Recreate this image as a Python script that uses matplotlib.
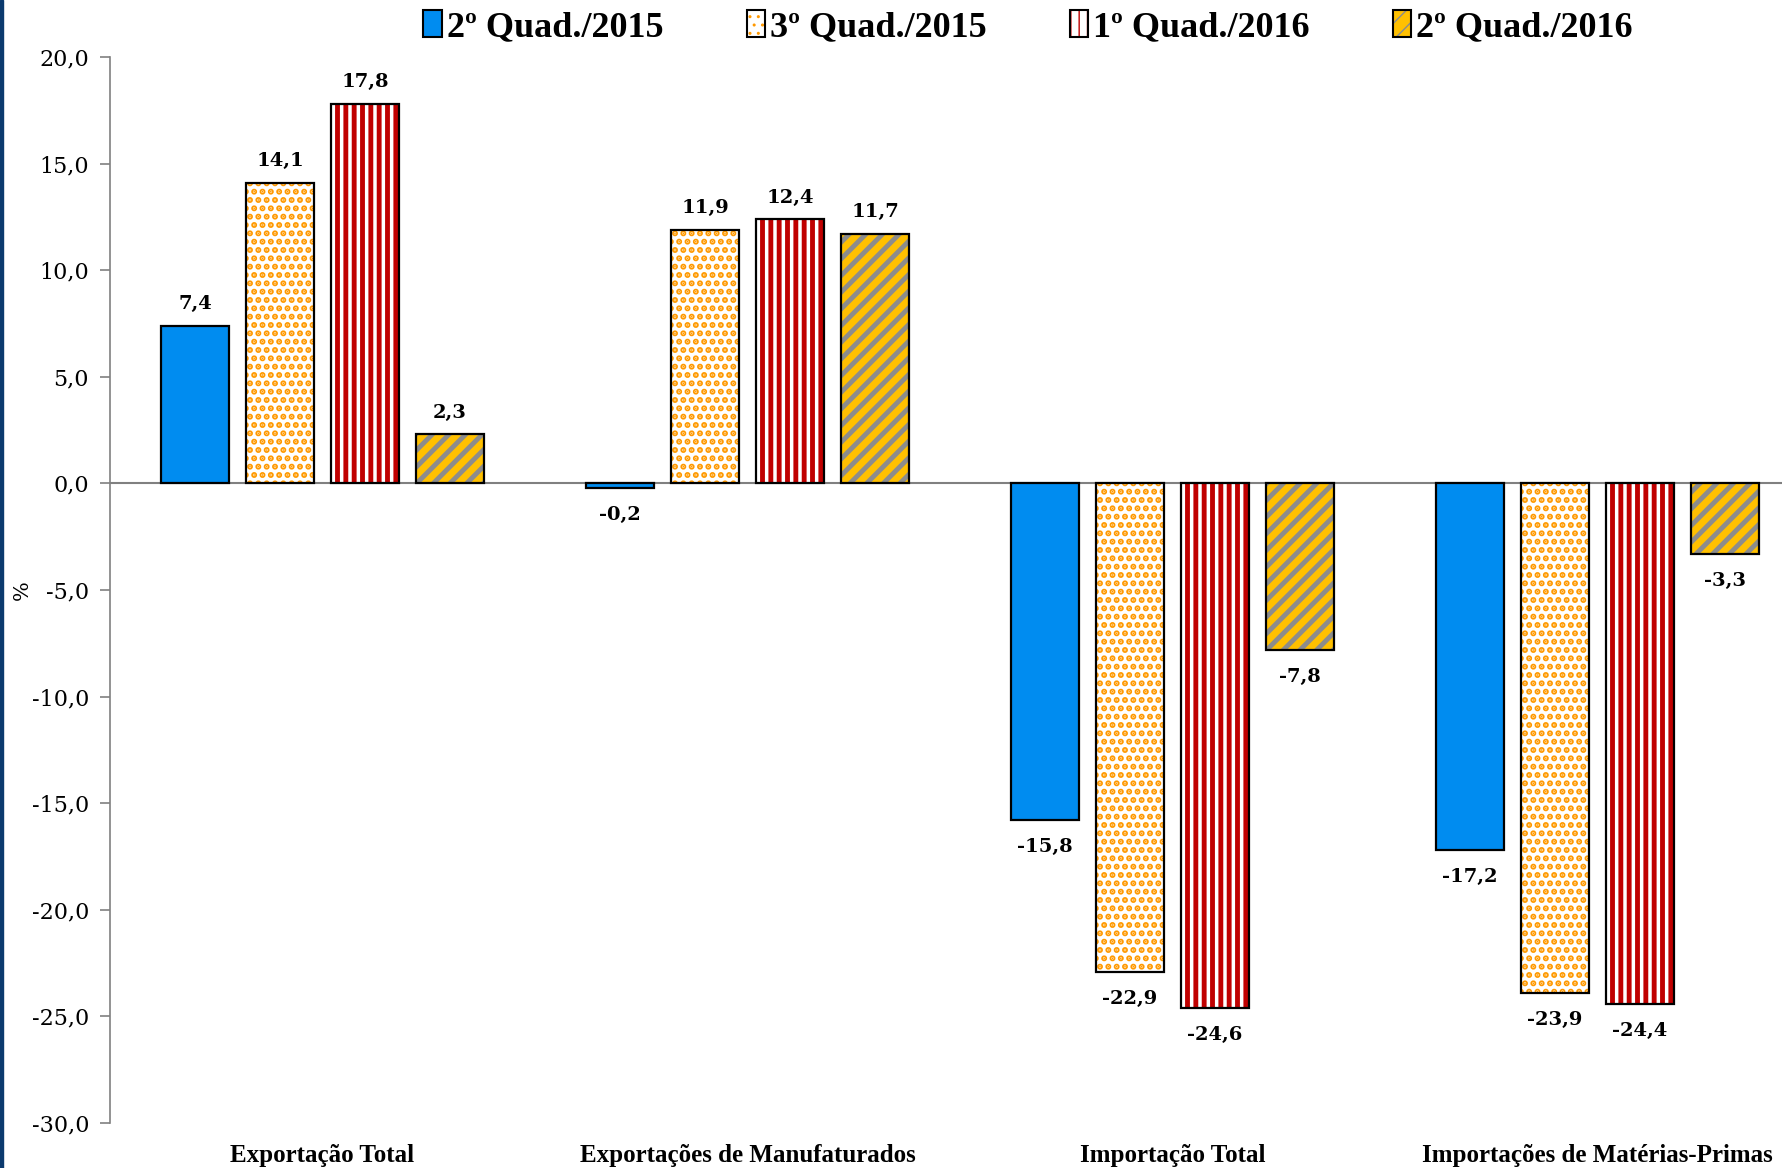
import matplotlib
matplotlib.use("Agg")
import matplotlib.pyplot as plt
import numpy as np
from matplotlib.patches import Patch, Rectangle

categories = [
    "Exportação Total",
    "Exportações de Manufaturados",
    "Importação Total",
    "Importações de Matérias-Primas",
]
series_names = ["2º Quad./2015", "3º Quad./2015", "1º Quad./2016", "2º Quad./2016"]
q2_2015 = [7.4, -0.2, -15.8, -17.2]
q3_2015 = [14.1, 11.9, -22.9, -23.9]
q1_2016 = [17.8, 12.4, -24.6, -24.4]
q2_2016 = [2.3, 11.7, -7.8, -3.3]
yticks = np.arange(-30, 25, 5)

# face, hatch, hatch colour, hatch linewidth
styles = [
    ("#008CF0", "", "#008CF0", 1.0),
    ("white", "..", "#FF9900", 3.0),
    ("white", "||", "#C00000", 3.5),
    ("#FFC000", "//", "#8C8C8C", 3.5),
]

fig = plt.figure(figsize=(17.82, 11.68), dpi=100)
ax = fig.add_axes([0.0617, 0.0385, 0.954, 0.9127])

x = np.arange(len(categories))
width = 0.16
step = 0.2
series = [q2_2015, q3_2015, q1_2016, q2_2016]

for i, vals in enumerate(series):
    face, hatch, hcol, hlw = styles[i]
    pos = x + (i - 1.5) * step
    # hatch layer first, black outline drawn on top
    with plt.rc_context({"hatch.linewidth": hlw}):
        ax.bar(pos, vals, width=width, color=face, edgecolor=hcol,
               hatch=hatch, linewidth=0, zorder=2)
    ax.bar(pos, vals, width=width, facecolor="none", edgecolor="black",
           linewidth=1.6, zorder=3)
    for p, v in zip(pos, vals):
        txt = f"{v:.1f}".replace(".", ",")
        off = 9 if v >= 0 else -13
        ax.annotate(txt, (p, v), xytext=(0, off), textcoords="offset points",
                    ha="center", va="bottom" if v >= 0 else "top",
                    fontsize=14, fontweight="bold", family="DejaVu Serif")

ax.axhline(0, color="#808080", linewidth=1.5, zorder=1)
ax.set_ylim(-30, 20)
ax.set_xlim(-0.5, 3.5)
ax.set_yticks(yticks)
ax.set_yticklabels([f"{t:.1f}".replace(".", ",") for t in yticks],
                   family="DejaVu Serif", fontsize=16)
ax.set_xticks(x)
ax.set_xticklabels(categories, family="Liberation Serif", fontweight="bold",
                   fontsize=18)
ax.tick_params(axis="x", length=0, pad=15)
ax.tick_params(axis="y", length=7, color="#808080", width=1.2, pad=8)
for s in ["top", "right", "bottom"]:
    ax.spines[s].set_visible(False)
ax.spines["left"].set_color("#808080")
ax.spines["left"].set_linewidth(1.2)
ax.set_ylabel("%", family="DejaVu Serif", fontsize=15, labelpad=0)

handles = []
for face, hatch, hcol, hlw in styles:
    with plt.rc_context({"hatch.linewidth": hlw * 0.6}):
        fill = Patch(facecolor=face, edgecolor=hcol, hatch=hatch, linewidth=0)
    outline = Patch(facecolor="none", edgecolor="black", linewidth=1.5)
    handles.append((fill, outline))
leg = fig.legend(handles, series_names, loc="upper center",
                 bbox_to_anchor=(0.577, 1.019), ncol=4, frameon=False,
                 handlelength=0.5, handleheight=0.75, handletextpad=0.15,
                 columnspacing=2.3,
                 prop={"family": "Liberation Serif", "weight": "bold",
                       "size": 26})

# dark left border
fig.patches.append(Rectangle((0, 0), 0.0017, 1, transform=fig.transFigure,
                             color="#0B3A6E", zorder=5))

fig.savefig("out.png", dpi=100)
